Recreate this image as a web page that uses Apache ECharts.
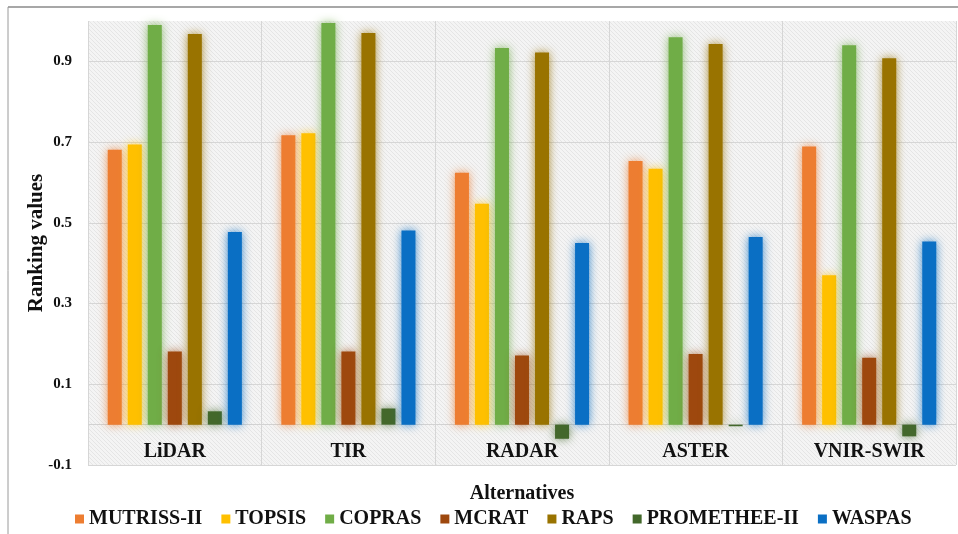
<!DOCTYPE html>
<html>
<head>
<meta charset="utf-8">
<script src="https://cdn.jsdelivr.net/npm/echarts@6/dist/echarts.min.js"></script>
<style>
  html, body { margin: 0; padding: 0; background: #ffffff; }
  #chart { width: 958px; height: 534px; }
</style>
</head>
<body>
<div id="chart"></div>
<script>
// Alternatives on the category axis
const categories = ['LiDAR', 'TIR', 'RADAR', 'ASTER', 'VNIR-SWIR'];

// Ranking values of each method for every alternative
const mutriss   = [0.681, 0.717, 0.624, 0.653, 0.689];
const topsis    = [0.694, 0.722, 0.547, 0.634, 0.370];
const copras    = [0.990, 0.995, 0.933, 0.960, 0.940];
const mcrat     = [0.181, 0.181, 0.171, 0.175, 0.166];
const raps      = [0.968, 0.970, 0.922, 0.943, 0.908];
const promethee = [0.033, 0.040, -0.035, -0.004, -0.029];
const waspas    = [0.477, 0.481, 0.450, 0.465, 0.454];

const methodNames = ['MUTRISS-II', 'TOPSIS', 'COPRAS', 'MCRAT', 'RAPS', 'PROMETHEE-II', 'WASPAS'];
const methodValues = [mutriss, topsis, copras, mcrat, raps, promethee, waspas];
const methodColors = ['#ED7D31', '#FFC000', '#70AD47', '#9E480E', '#997300', '#43682B', '#0A6FC4'];

// Y axis ticks: -0.1 .. 0.9 in steps of 0.2
const yMin = -0.1;
const yMax = 1.0;
const yStep = 0.2;

const FONT = '"Liberation Serif", "Times New Roman", serif';

// Fine diagonal texture for the plot background
function makeTexture() {
  const c = document.createElement('canvas');
  c.width = 4; c.height = 4;
  const g = c.getContext('2d');
  g.fillStyle = '#f4f4f4';
  g.fillRect(0, 0, 4, 4);
  g.strokeStyle = '#e5e5e5';
  g.lineWidth = 1;
  g.beginPath();
  g.moveTo(0, 0); g.lineTo(4, 4);
  g.moveTo(-1, 3); g.lineTo(1, 5);
  g.moveTo(3, -1); g.lineTo(5, 1);
  g.stroke();
  return c;
}

function hexToRgba(hex, a) {
  const n = parseInt(hex.slice(1), 16);
  return 'rgba(' + ((n >> 16) & 255) + ',' + ((n >> 8) & 255) + ',' + (n & 255) + ',' + a + ')';
}

const chart = echarts.init(document.getElementById('chart'), null, { renderer: 'canvas' });

const series = methodNames.map((name, i) => ({
  name: name,
  type: 'bar',
  data: methodValues[i],
  barWidth: 14,
  barGap: '43%',
  itemStyle: {
    color: methodColors[i],
    shadowBlur: 10,
    shadowColor: hexToRgba(methodColors[i], 0.8)
  }
}));

// faint baseline at zero
series[0].markLine = {
  silent: true,
  symbol: 'none',
  label: { show: false },
  lineStyle: { color: '#d2d2d2', type: 'solid', width: 1 },
  data: [{ yAxis: 0 }],
  z: 1
};

chart.setOption({
  animation: false,
  textStyle: { fontFamily: FONT },
  grid: {
    left: 88, right: 2, top: 21, bottom: 69,
    outerBoundsMode: 'none',
    show: true,
    borderWidth: 0,
    backgroundColor: { image: makeTexture(), repeat: 'repeat' }
  },
  legend: {
    data: methodNames,
    left: 70,
    top: 504,
    icon: 'rect',
    itemWidth: 9,
    itemHeight: 9,
    itemGap: 19,
    textStyle: { fontFamily: FONT, fontWeight: 'bold', fontSize: 20, color: '#111' }
  },
  xAxis: {
    type: 'category',
    data: categories,
    name: 'Alternatives',
    nameLocation: 'middle',
    nameGap: 19,
    nameMoveOverlap: false,
    nameTextStyle: { fontFamily: FONT, fontWeight: 'bold', fontSize: 20, color: '#111' },
    axisLine: { show: false, onZero: false },
    axisTick: { show: false },
    axisLabel: { margin: -23, fontFamily: FONT, fontWeight: 'bold', fontSize: 20, color: '#111' },
    splitLine: { show: true, lineStyle: { color: '#d6d6d6', width: 1 } }
  },
  yAxis: {
    type: 'value',
    min: yMin,
    max: yMax,
    interval: yStep,
    name: 'Ranking values',
    nameLocation: 'middle',
    nameGap: 41,
    nameMoveOverlap: false,
    nameTextStyle: { fontFamily: FONT, fontWeight: 'bold', fontSize: 21, color: '#111' },
    axisLine: { show: false },
    axisTick: { show: false },
    axisLabel: {
      showMaxLabel: false,
      margin: 16,
      fontFamily: FONT, fontWeight: 'bold', fontSize: 15, color: '#111',
      formatter: v => v.toFixed(1)
    },
    splitLine: {
      show: true,
      lineStyle: {
        color: ['#d6d6d6', '#d6d6d6', '#d6d6d6', '#d6d6d6', '#d6d6d6', '#d6d6d6', 'rgba(0,0,0,0)'],
        width: 1
      }
    }
  },
  graphic: [
    { type: 'line', shape: { x1: 8, y1: 7, x2: 958, y2: 7 }, style: { stroke: '#8a8a8a', lineWidth: 1.5 }, silent: true },
    { type: 'line', shape: { x1: 8, y1: 7, x2: 8, y2: 534 }, style: { stroke: '#9a9a9a', lineWidth: 1 }, silent: true }
  ],
  series: series
});
</script>
</body>
</html>
